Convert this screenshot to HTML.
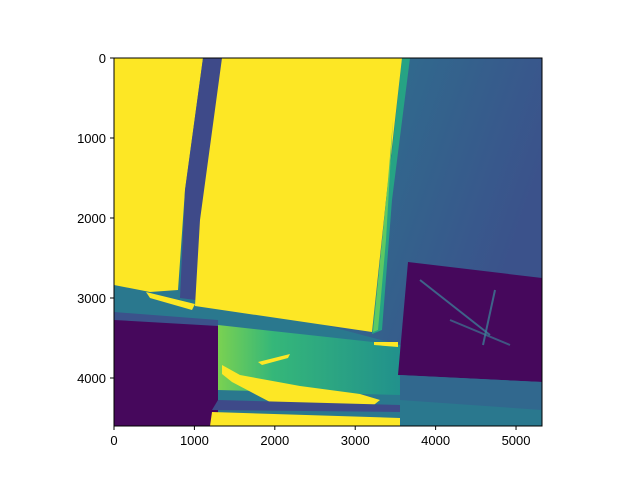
<!DOCTYPE html>
<html><head><meta charset="utf-8"><style>
body{margin:0;background:#fff;}
svg text{font-family:"Liberation Sans",sans-serif;font-size:13px;fill:#000;}
</style></head><body>
<svg width="640" height="480">
<defs>
<linearGradient id="bg" x1="0" y1="0" x2="1" y2="0.3">
<stop offset="0" stop-color="#238a8d"/><stop offset="0.5" stop-color="#2d718e"/><stop offset="1" stop-color="#3b528b"/>
</linearGradient>
<linearGradient id="mid" x1="0" y1="0" x2="1" y2="0">
<stop offset="0" stop-color="#7ad151"/><stop offset="0.3" stop-color="#35b779"/><stop offset="1" stop-color="#21918c"/>
</linearGradient>
<clipPath id="cl"><rect x="114" y="58" width="428" height="368"/></clipPath>
</defs>
<g clip-path="url(#cl)">
<rect x="114" y="58" width="428" height="368" fill="url(#bg)"/>
<polygon points="114,285 200,292 400,345 542,350 542,426 114,426" fill="#2a788e"/>
<polygon points="218,325 400,345 400,395 218,390" fill="url(#mid)"/>
<polygon points="114,315 218,322 218,426 114,426" fill="#46085c"/>
<polygon points="114,312 218,320 218,326 114,320" fill="#3b528b"/>
<polygon points="408,262 542,278 542,382 398,375" fill="#46085c"/>
<polygon points="400,375 542,382 542,410 400,400" fill="#31688e"/>
<polygon points="402,58 410,58 392,200 382,330 372,334" fill="#26a384"/>
<polygon points="114,58 203,58 185,190 178,290 150,292 114,285" fill="#fde725"/>
<polygon points="203,58 222,58 196,300 180,298 185,190" fill="#3e4a89"/>
<polygon points="222,58 402,58 386,200 372,332 195,306 200,220" fill="#fde725"/>
<polygon points="388,180 393,120 386,240 378,330 373,332" fill="#5ec962"/>
<polygon points="146,292 195,304 192,310 150,298" fill="#fde725"/>
<polygon points="222,365 240,375 300,386 360,394 380,400 370,408 270,402 232,382 222,374" fill="#fde725"/>
<polygon points="258,362 290,354 288,358 262,365" fill="#fde725"/>
<polygon points="212,412 400,418 400,426 210,426" fill="#fde725"/>
<polygon points="374,342 398,342 398,347 374,345" fill="#fde725"/>
<polygon points="218,400 400,405 400,412 212,410" fill="#3e4a89"/>
<line x1="420" y1="280" x2="490" y2="335" stroke="#3b8a9c" stroke-width="2" opacity="0.7"/>
<line x1="495" y1="290" x2="483" y2="345" stroke="#3b8a9c" stroke-width="2" opacity="0.7"/>
<line x1="450" y1="320" x2="510" y2="345" stroke="#3b8a9c" stroke-width="2" opacity="0.6"/>
</g>
<rect x="114" y="58" width="428" height="368" fill="none" stroke="#000" stroke-width="1"/>
<g id="xt"></g>
<g id="yt"></g>
</svg>
<script>
const xTicks=[0,1000,2000,3000,4000,5000];
const yTicks=[0,1000,2000,3000,4000];
const xMax=5323, yMax=4600;
const x=v=>114+v/xMax*428, y=v=>58+v/yMax*368;
const ns="http://www.w3.org/2000/svg";
const xg=document.getElementById('xt'), yg=document.getElementById('yt');
xTicks.forEach(t=>{
 const l=document.createElementNS(ns,'line');
 
 
 l.setAttribute('x1',x(t));l.setAttribute('x2',x(t));l.setAttribute('y1',426);l.setAttribute('y2',430);l.setAttribute('stroke','#000');
 xg.appendChild(l);
 const tx=document.createElementNS(ns,'text');
 
 
 tx.setAttribute('x',x(t));tx.setAttribute('y',445);tx.setAttribute('text-anchor','middle');tx.textContent=t;
 xg.appendChild(tx);
});
yTicks.forEach(t=>{
 const l=document.createElementNS(ns,'line');
 
 
 l.setAttribute('x1',110);l.setAttribute('x2',114);l.setAttribute('y1',y(t));l.setAttribute('y2',y(t));l.setAttribute('stroke','#000');
 yg.appendChild(l);
 const tx=document.createElementNS(ns,'text');
 
 
 tx.setAttribute('x',106);tx.setAttribute('y',y(t)+5);tx.setAttribute('text-anchor','end');tx.textContent=t;
 yg.appendChild(tx);
});
</script>
</body></html>
